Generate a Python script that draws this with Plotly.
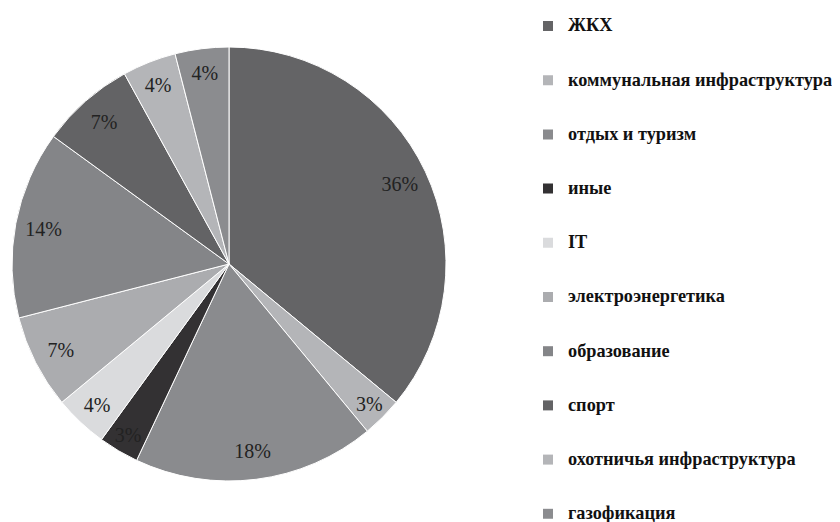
import plotly.graph_objects as go

categories = ["ЖКХ", "коммунальная инфраструктура", "отдых и туризм", "иные", "IT",
              "электроэнергетика", "образование", "спорт", "охотничья инфраструктура", "газофикация"]
shares = [36, 3, 18, 3, 4, 7, 14, 7, 4, 4]
colors = ["#646466", "#b4b5b8", "#8a8b8e", "#333133", "#dadbdd",
          "#abacaf", "#848588", "#636365", "#b4b5b8", "#8b8c8f"]

W, H = 840, 522
OFF = 8  # page body margin
cx, cy, r = 229 - OFF, 264 - OFF, 217
dom_x = [(cx - r) / W, (cx + r) / W]
dom_y = [1 - (cy + r) / H, 1 - (cy - r) / H]

fig = go.Figure()
# coloured pie
fig.add_trace(go.Pie(
    labels=categories, values=shares, sort=False, direction="clockwise", rotation=0,
    marker=dict(colors=colors, line=dict(color="white", width=1)),
    textinfo="none", showlegend=False, hoverinfo="skip",
    domain=dict(x=dom_x, y=dom_y),
))
# transparent ring carrying the percentage labels near the outer edge
fig.add_trace(go.Pie(
    labels=categories, values=shares, sort=False, direction="clockwise", rotation=0,
    hole=0.74,
    marker=dict(colors=["rgba(0,0,0,0)"] * len(shares), line=dict(width=0)),
    texttemplate="%{value}%", textposition="inside", insidetextorientation="horizontal",
    textfont=dict(family="Liberation Serif", size=20, color="#222222"),
    showlegend=False, hoverinfo="skip",
    domain=dict(x=dom_x, y=dom_y),
))
# legend entries
for i, (c, col) in enumerate(zip(categories, colors)):
    fig.add_trace(go.Scatter(
        x=[None], y=[None], mode="markers",
        name=f"<span style='font-size:18.3px'>{c}</span>", legendgroup=f"g{i}",
        marker=dict(symbol="square", size=10, color=col, line=dict(width=0)),
        hoverinfo="skip",
    ))

fig.update_layout(
    width=W, height=H,
    margin=dict(l=0, r=0, t=0, b=0, autoexpand=False),
    paper_bgcolor="white", plot_bgcolor="white",
    xaxis=dict(visible=False), yaxis=dict(visible=False),
    legend=dict(
        x=520 / W, xanchor="left", y=1 - 2.4 / H, yanchor="top",
        traceorder="grouped", tracegroupgap=33, itemwidth=30,
        font=dict(family="Liberation Serif", size=14, color="#111111", weight="bold"),
        bgcolor="rgba(0,0,0,0)", borderwidth=0,
    ),
)
fig.write_html("out.html")
